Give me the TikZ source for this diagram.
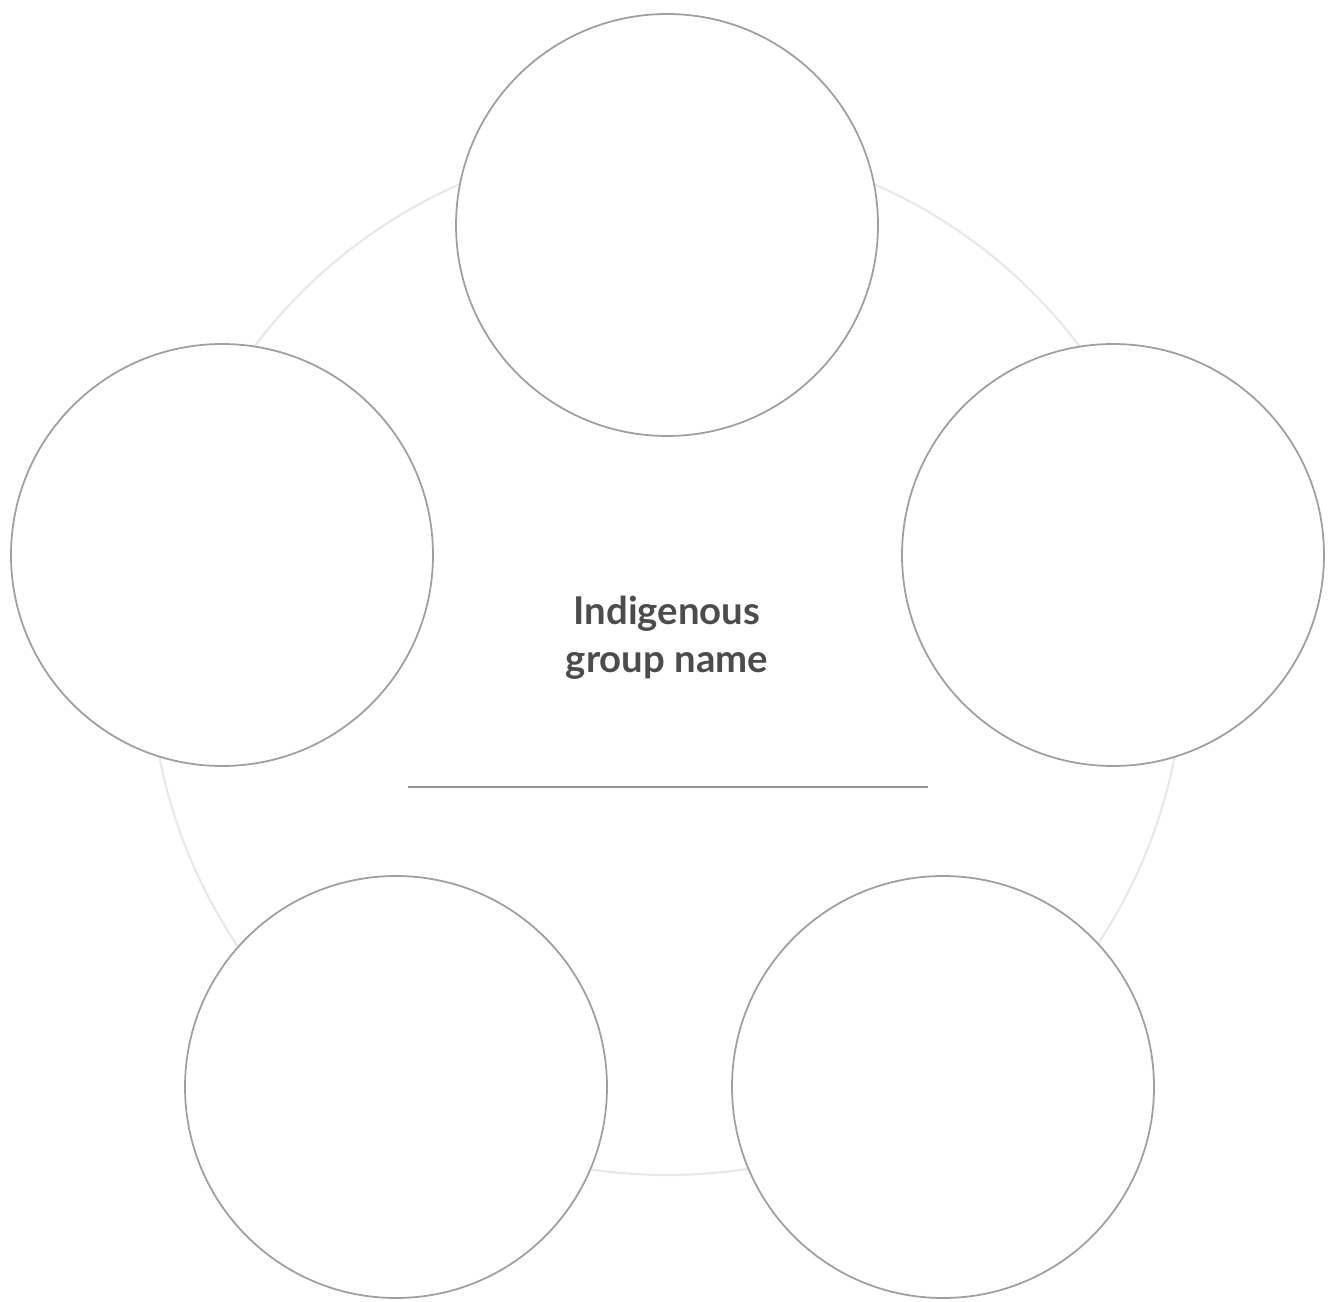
\documentclass[tikz,border=0pt]{standalone}
\usepackage{fontspec}
\setmainfont{Lato}
\usepackage{xcolor}
\usetikzlibrary{positioning}

\begin{document}
\begin{tikzpicture}[
ring/.style={draw=gray!18,line width=.6pt,circle,minimum size=10.34cm,inner sep=0pt},
slot/.style={draw=gray!75,line width=.5pt,fill=white,circle,minimum size=4.22cm,inner sep=0pt},
title/.style={align=center,text=black!70,font=\fontsize{10.9}{13.7}\selectfont\bfseries}]
\useasboundingbox (0,0) rectangle (13.34,13.01);
\node[ring] (r) at (6.67,6.43) {};
\node[slot] (t) at (6.67,10.76) {};
\node[slot] (l) at (2.22,7.46) {};
\node[slot] (rt) at (11.13,7.46) {};
\node[slot] (bl) at (3.96,2.14) {};
\node[slot] (br) at (9.43,2.14) {};
\node[title] (name) at (6.67,6.63) {Indigenous\\group name};
\coordinate (ls) at (4.08,5.14);
\coordinate (le) at (9.28,5.14);
\draw[gray!85,line width=.6pt] (ls) -- (le);
\end{tikzpicture}
\end{document}
